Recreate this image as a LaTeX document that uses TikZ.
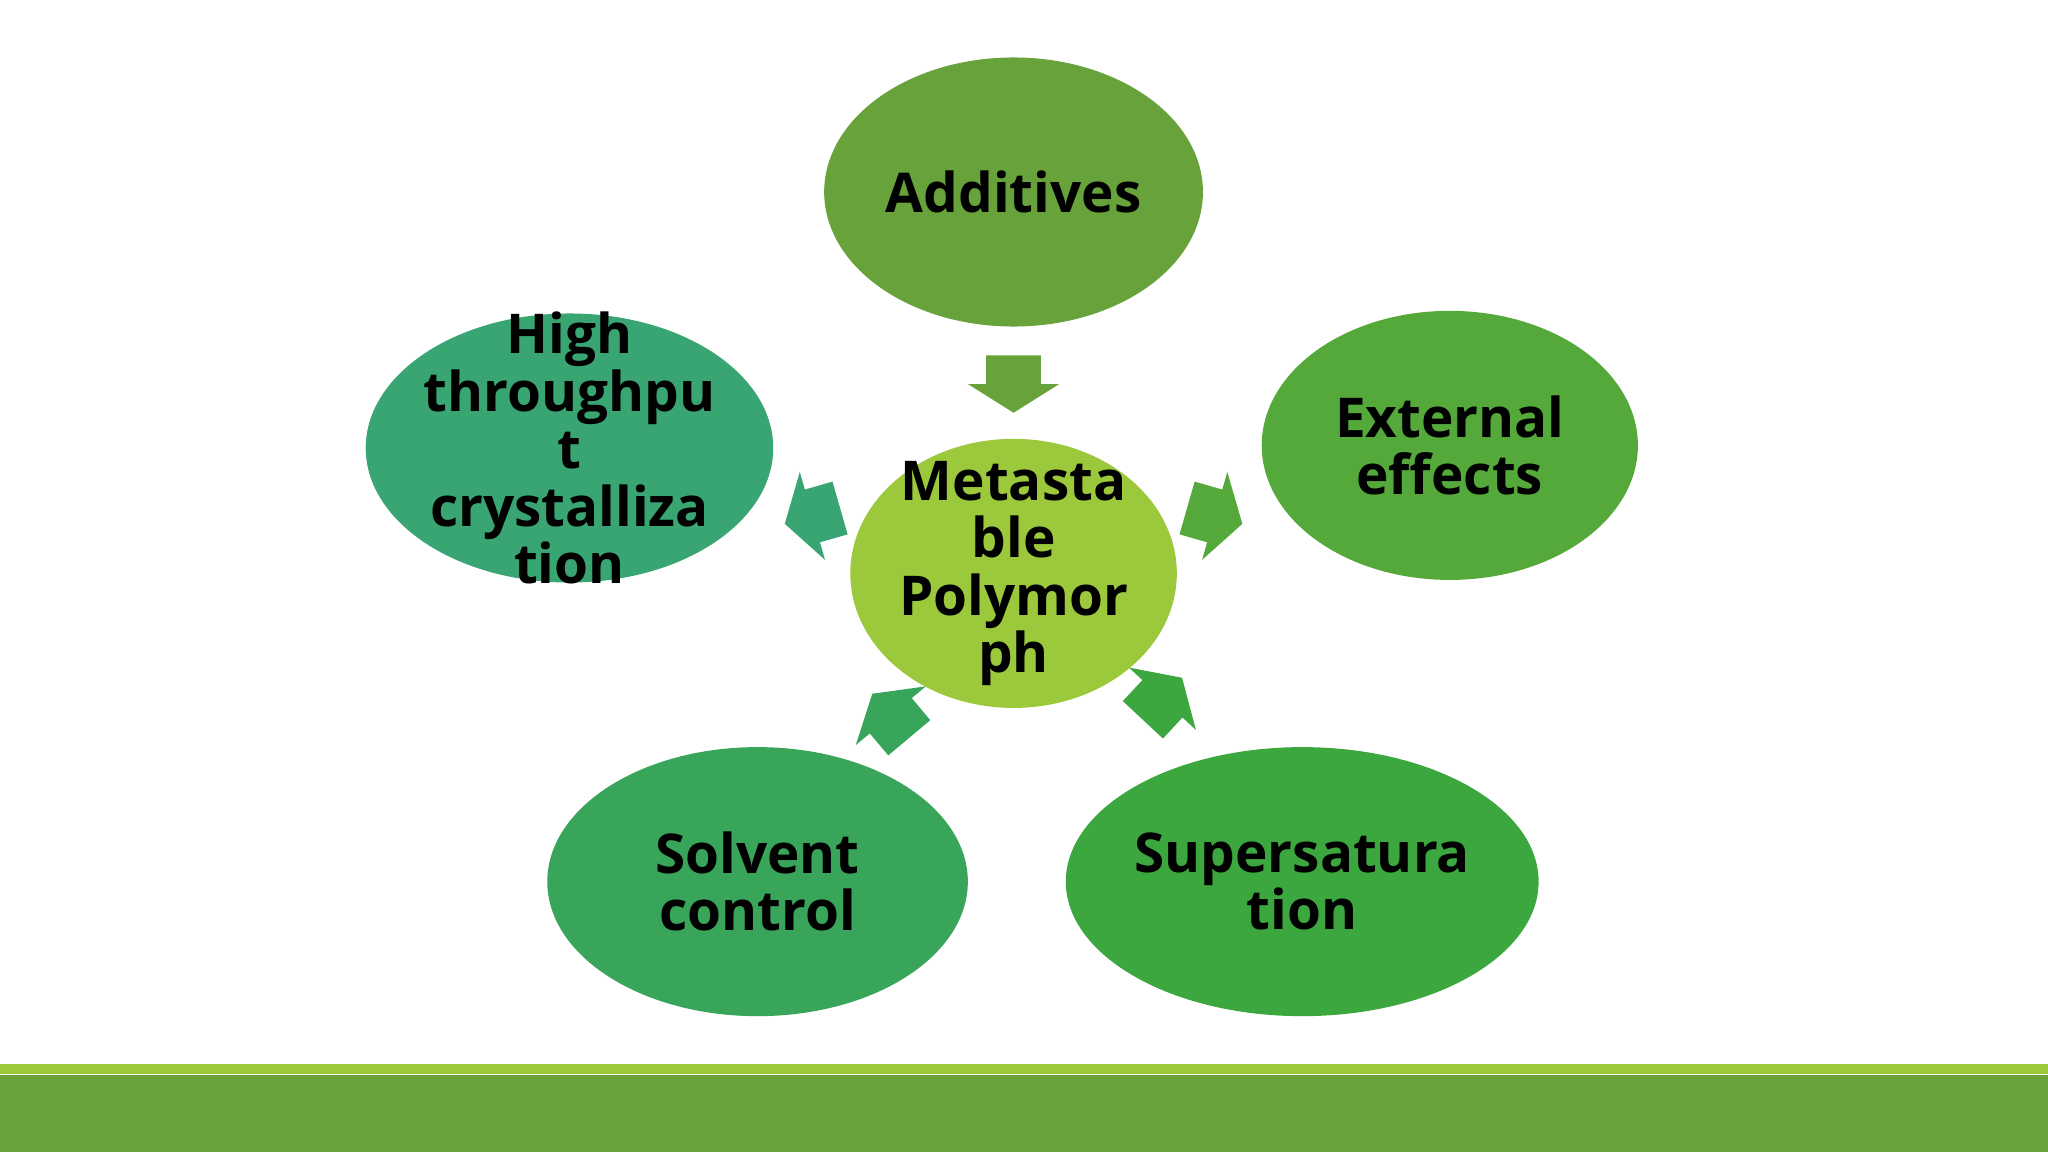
\documentclass[tikz,border=0pt]{standalone}
\usepackage{fontspec}
\setmainfont{Open Sans}
\usetikzlibrary{shapes.geometric}
\definecolor{cA}{RGB}{103,163,58}
\definecolor{cE}{RGB}{85,168,58}
\definecolor{cS}{RGB}{60,166,63}
\definecolor{cV}{RGB}{56,165,90}
\definecolor{cH}{RGB}{56,165,115}
\definecolor{cM}{RGB}{156,201,59}
\begin{document}
\begin{tikzpicture}[x=0.5pt,y=-0.5pt,
  ell/.style={ellipse, draw=none, inner sep=0pt, align=center, font=\bfseries\fontsize{21}{22}\selectfont},
  blk/.pic={\fill[pic actions] (-22,-21)--(0,-21)--(0,-35)--(22,0)--(0,35)--(0,21)--(-22,21)--cycle;}]
\useasboundingbox (0,0) rectangle (1568,882);
\fill[white] (0,0) rectangle (1568,882);
\fill[cM] (0,815) rectangle (1568,822);
\fill[cA] (0,823) rectangle (1568,882);
\fill[cA] (776,147) ellipse [x radius=145,y radius=103];
\fill[cE] (1110,341) ellipse [x radius=144,y radius=103];
\fill[cS] (997,675) ellipse [x radius=181,y radius=103];
\fill[cV] (580,675) ellipse [x radius=161,y radius=103];
\fill[cH] (436,343) ellipse [x radius=156,y radius=103];
\fill[cM] (776,439) ellipse [x radius=125,y radius=103];
\node[ell] (add) at (776,147) {Additives};
\node[ell] (ext) at (1110,341) {External\\effects};
\node[ell] (sup) at (997,675) {Supersatura\\tion};
\node[ell] (sol) at (580,675) {Solvent\\control};
\node[ell] (hig) at (436,343) {High\\throughpu\\t\\crystalliza\\tion};
\node[ell] (met) at (776,439) {Metasta\\ble\\Polymor\\ph};
\path (776,294) pic[rotate=-90,fill=cA] {blk};
\path (930,395) pic[rotate=-16,fill=cE] {blk};
\path (622,395) pic[rotate=196,fill=cH] {blk};
\path (890,535) pic[rotate=47,fill=cS] {blk};
\path (682,548) pic[rotate=130,fill=cV] {blk};
\end{tikzpicture}
\end{document}
